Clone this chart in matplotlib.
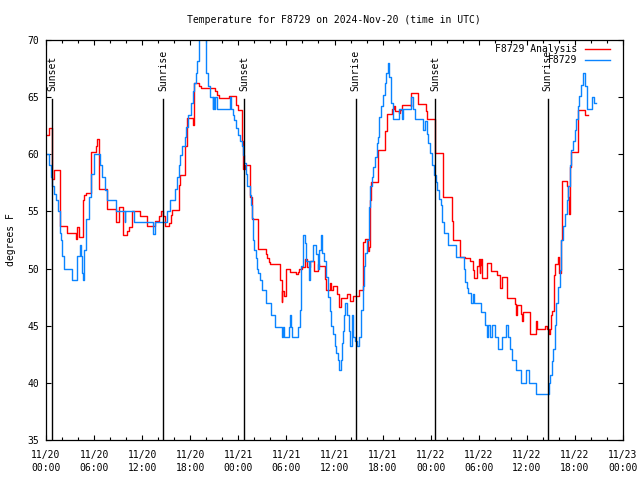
import numpy as np
import matplotlib
matplotlib.use("Agg")
import matplotlib.pyplot as plt

plt.rcParams['font.family'] = ['DejaVu Sans Mono']

# hours since 11/20 00:00 UTC, degrees F (step breakpoints)
obs_t = [0.0, 0.35, 0.6, 0.8, 1.0, 1.2, 1.5, 1.7, 1.85, 2.05, 2.3, 3.3, 3.9, 4.2, 4.35,
         4.5, 4.65, 4.8, 5.05, 5.35, 5.65, 6.0, 6.75, 7.0, 7.4, 7.6, 8.7, 9.8, 9.9, 11.0,
         13.4, 13.6, 15.1, 15.5, 16.05, 16.35, 16.55, 16.75, 16.95, 17.3, 17.45, 17.7, 18.1,
         18.3, 18.5, 18.7, 18.9, 19.05, 19.15, 19.95, 20.2, 20.45, 20.8, 20.9, 21.0, 21.1,
         21.35, 22.95, 23.05, 23.3, 23.5, 23.7, 24.0, 24.2, 24.4, 24.6, 24.75, 24.95, 25.1,
         25.4, 25.55, 25.7, 25.8, 26.0, 26.2, 26.3, 26.5, 26.7, 26.9, 27.5, 28.1, 28.6,
         29.4, 29.6, 29.7, 30.3, 30.5, 30.6, 30.7, 31.5, 31.75, 31.85, 32.05, 32.3, 32.5,
         32.8, 33.0, 33.3, 33.7, 33.9, 34.05, 34.3, 34.5, 34.75, 34.95, 35.2, 35.4, 35.6,
         35.8, 36.0, 36.2, 36.4, 36.55, 36.75, 36.9, 37.05, 37.2, 37.35, 37.6, 37.8, 37.95,
         38.15, 38.35, 38.6, 38.8, 39.05, 39.3, 39.5, 39.65, 39.85, 40.05, 40.25, 40.45,
         40.65, 40.85, 41.05, 41.25, 41.4, 41.6, 41.85, 42.05, 42.25, 42.45, 42.65, 42.85,
         43.05, 43.3, 44.05, 44.45, 44.55, 45.6, 45.8, 46.1, 47.1, 47.3, 47.5, 47.7, 47.95,
         48.2, 48.45, 48.65, 48.85, 49.05, 49.25, 49.45, 49.65, 50.2, 51.1, 52.1, 52.3,
         52.5, 52.7, 53.0, 53.25, 53.4, 54.3, 54.75, 55.0, 55.2, 55.45, 55.7, 56.05, 56.4,
         56.9, 57.45, 57.65, 57.85, 58.1, 58.6, 59.3, 59.85, 60.25, 61.15, 62.75, 62.9,
         63.1, 63.3, 63.5, 63.7, 63.9, 64.1, 64.3, 64.55, 64.75, 64.95, 65.15, 65.35, 65.5,
         65.7, 65.95, 66.15, 66.35, 66.55, 66.75, 66.95, 67.25, 67.45, 68.1, 68.4, 68.6]
obs_v = [60.0, 59.1, 58.0, 57.2, 56.5, 56.0, 55.0, 53.1, 52.5, 51.1, 50.0, 49.0, 51.1, 52.1, 51.1,
         49.6, 49.0, 51.6, 54.3, 56.3, 58.3, 60.0, 59.1, 58.0, 56.9, 56.0, 55.0, 54.1, 55.0, 54.1,
         53.0, 54.1, 55.0, 56.0, 57.0, 58.0, 59.1, 59.9, 60.7, 61.5, 62.4, 63.4, 64.5,
         65.5, 66.2, 67.1, 68.2, 69.6, 70.8, 67.1, 66.0, 65.0, 64.0, 65.0, 64.0, 65.0,
         64.0, 65.0, 64.0, 63.4, 63.0, 62.3, 61.7, 61.2, 60.7, 59.9, 59.2, 58.3, 57.2,
         56.4, 55.6, 54.4, 52.5, 51.6, 50.9, 50.0, 49.6, 49.0, 48.1, 47.0, 45.9, 44.9,
         44.0, 44.9, 44.0, 44.9, 45.9, 44.9, 44.0, 44.9, 46.4, 50.2, 52.9, 52.2, 50.7,
         49.0, 50.7, 52.1, 51.3, 50.0, 51.6, 52.9, 51.4, 50.7, 49.3, 47.5, 46.3, 45.0,
         44.3, 43.2, 42.6, 42.0, 41.1, 42.0, 43.5, 44.5, 45.9, 47.0, 45.9, 44.5, 43.2,
         45.9, 44.0, 43.7, 43.2, 44.0, 46.4, 48.5, 50.2, 51.4, 52.5, 55.4, 57.2,
         58.0, 58.9, 59.8, 61.0, 61.5, 63.3, 64.2, 65.2, 66.2, 67.1, 68.0, 66.8,
         64.5, 63.1, 64.0, 63.1, 64.0, 65.0, 64.0, 63.1, 62.1, 62.9, 61.8, 61.0, 60.1,
         59.1, 58.2, 57.6, 56.9, 56.1, 55.6, 54.1, 53.1, 52.1, 51.0, 50.0, 48.8,
         48.3, 47.9, 47.0, 47.8, 47.0, 46.2, 45.1, 44.0, 45.1, 44.0, 45.1, 44.0, 43.0,
         44.0, 45.1, 44.0, 43.0, 42.0, 41.1, 40.0, 41.1, 40.0, 39.0, 40.0, 40.7,
         41.9, 43.0, 45.1, 47.0, 48.4, 49.9, 52.5, 53.7, 54.8, 56.0, 57.2, 59.1, 60.4,
         61.2, 62.1, 63.1, 64.2, 65.1, 66.1, 67.1, 66.0, 64.0, 65.0, 64.5, 64.5]

ana_t = [0.0, 0.35, 0.75, 0.95, 1.7, 2.65, 3.7, 3.9, 4.15, 4.65, 4.8, 4.95, 5.65, 6.25,
         6.4, 6.6, 7.65, 8.7, 9.1, 9.6, 10.1, 10.35, 10.7, 11.7, 12.6, 13.6, 14.1, 14.3,
         14.55, 14.9, 15.35, 15.55, 15.75, 16.55, 16.75, 17.4, 17.6, 18.3, 18.45, 19.1,
         19.4, 21.1, 21.3, 21.6, 22.8, 23.7, 24.0, 24.5, 24.55, 24.8, 25.45, 25.7, 26.5,
         27.4, 27.6, 27.8, 28.0, 29.2, 29.4, 29.5, 29.7, 29.9, 30.0, 30.4, 31.2, 31.4,
         31.6, 31.9, 32.3, 32.6, 32.9, 33.4, 33.9, 34.1, 34.8, 35.0, 35.4, 35.6, 35.8,
         36.3, 36.5, 36.6, 36.8, 37.5, 37.9, 38.3, 39.1, 39.5, 39.6, 39.8, 40.2, 40.3,
         40.45, 40.6, 41.4, 42.3, 42.5, 43.2, 43.4, 43.6, 44.1, 44.2, 44.4, 45.5, 45.6,
         46.4, 47.4, 47.6, 48.5, 48.6, 49.5, 49.6, 50.7, 50.8, 51.6, 52.3, 52.9, 53.3,
         53.4, 53.8, 54.0, 54.1, 54.2, 54.3, 54.45, 55.0, 55.5, 56.3, 56.6, 56.9, 57.5,
         58.55, 58.65, 58.8, 59.3, 59.45, 59.55, 60.35, 61.2, 61.3, 62.3, 62.5, 62.75,
         62.95, 63.05, 63.15, 63.35, 63.55, 63.9, 64.0, 64.3, 64.4, 64.95, 65.1, 65.2,
         65.35, 65.55, 66.35, 67.25, 67.6]
ana_v = [61.7, 62.3, 57.8, 58.6, 53.7, 53.1, 52.6, 53.6, 52.8, 56.0, 56.4, 56.6, 60.2, 60.7,
         61.3, 57.0, 55.2, 54.1, 55.4, 52.9, 53.3, 53.6, 55.0, 54.6, 53.7, 54.2, 54.6, 55.0,
         54.6, 53.7, 54.0, 54.7, 55.1, 57.3, 58.2, 60.7, 63.2, 62.6, 66.2, 66.0,
         65.8, 65.5, 65.2, 64.9, 65.1, 64.3, 63.9, 61.2, 58.7, 59.1, 56.3, 54.3, 51.7,
         51.3, 50.9, 50.6, 50.4, 49.0, 47.1, 48.0, 47.6, 48.2, 50.0, 49.7, 49.5, 49.7,
         50.0, 50.1, 50.8, 50.1, 50.7, 49.8, 50.4, 50.2, 49.1, 48.1, 48.7, 48.1, 48.5,
         47.8, 47.2, 46.6, 47.4, 47.8, 47.2, 47.6, 48.1, 49.8, 52.3, 52.6, 51.5, 51.9,
         56.0, 57.6, 60.4, 62.0, 63.5, 64.0, 64.2, 63.8, 63.6, 63.9, 64.3, 64.2, 65.4,
         64.4, 63.8, 63.1, 61.9, 60.1, 58.2, 56.3, 54.2, 52.5, 51.0, 50.9, 50.7, 49.9,
         49.2, 50.2, 50.8, 49.6, 50.3, 50.8, 49.2, 50.5, 49.8, 49.4, 48.3, 49.3, 47.4,
         46.9, 45.9, 46.8, 46.0, 45.4, 46.2, 44.3, 45.4, 44.7, 45.0, 44.7, 44.3,
         44.7, 45.9, 46.3, 49.4, 50.4, 51.0, 49.6, 52.5, 57.7, 57.2, 56.3, 54.8,
         58.9, 60.2, 63.9, 63.4, 63.4]

sun_t = [0.77, 14.6, 24.75, 38.65, 48.55, 62.6]
sun_lbl = ['Sunset', 'Sunrise', 'Sunset', 'Sunrise', 'Sunset', 'Sunrise']

tick_h = list(range(0, 73, 6))
tick_lbl = ['11/20\n00:00', '11/20\n06:00', '11/20\n12:00', '11/20\n18:00',
            '11/21\n00:00', '11/21\n06:00', '11/21\n12:00', '11/21\n18:00',
            '11/22\n00:00', '11/22\n06:00', '11/22\n12:00', '11/22\n18:00',
            '11/23\n00:00']

fig = plt.figure(figsize=(6.4, 4.8), dpi=100)
ax = fig.add_axes([46/640, 40/480, 577/640, 400/480])

ax.step(ana_t, ana_v, where='post', color='#ff0000', lw=1.0, label='F8729 Analysis')
ax.step(obs_t, obs_v, where='post', color='#0a84ff', lw=1.0, label='F8729')

for t, lbl in zip(sun_t, sun_lbl):
    ax.plot([t, t], [35, 64.85], color='black', lw=1.0)
    ax.text(t, 65.5, lbl, rotation=90, ha='center', va='bottom', fontsize=7)

ax.set_xlim(0, 72)
ax.set_ylim(35, 70)
ax.set_xticks(tick_h)
ax.set_xticklabels(tick_lbl)
for lbl in ax.get_xticklabels():
    lbl.set_linespacing(1.45)
ax.set_xticks(range(0, 73, 2), minor=True)
ax.set_yticks(range(35, 71, 5))
ax.tick_params(direction='in', top=True, right=True, length=3.5, width=0.8,
               labelsize=7, pad=5)
ax.tick_params(axis='x', pad=7)
ax.tick_params(which='minor', direction='in', top=True, right=False, length=2, width=0.8)
for s in ax.spines.values():
    s.set_linewidth(0.9)

ax.legend(loc='upper right', bbox_to_anchor=(0.977, 0.99), frameon=False,
          markerfirst=False, fontsize=7, handlelength=2.5, handletextpad=0.8,
          labelspacing=0.15, borderpad=0, borderaxespad=0)

fig.text(334/640, 1 - 20/480, 'Temperature for F8729 on 2024-Nov-20 (time in UTC)',
         ha='center', va='center', fontsize=7)
fig.text(11/640, 0.5, 'degrees F', rotation=90, ha='center', va='center', fontsize=7)

fig.savefig('out.png', dpi=100)
